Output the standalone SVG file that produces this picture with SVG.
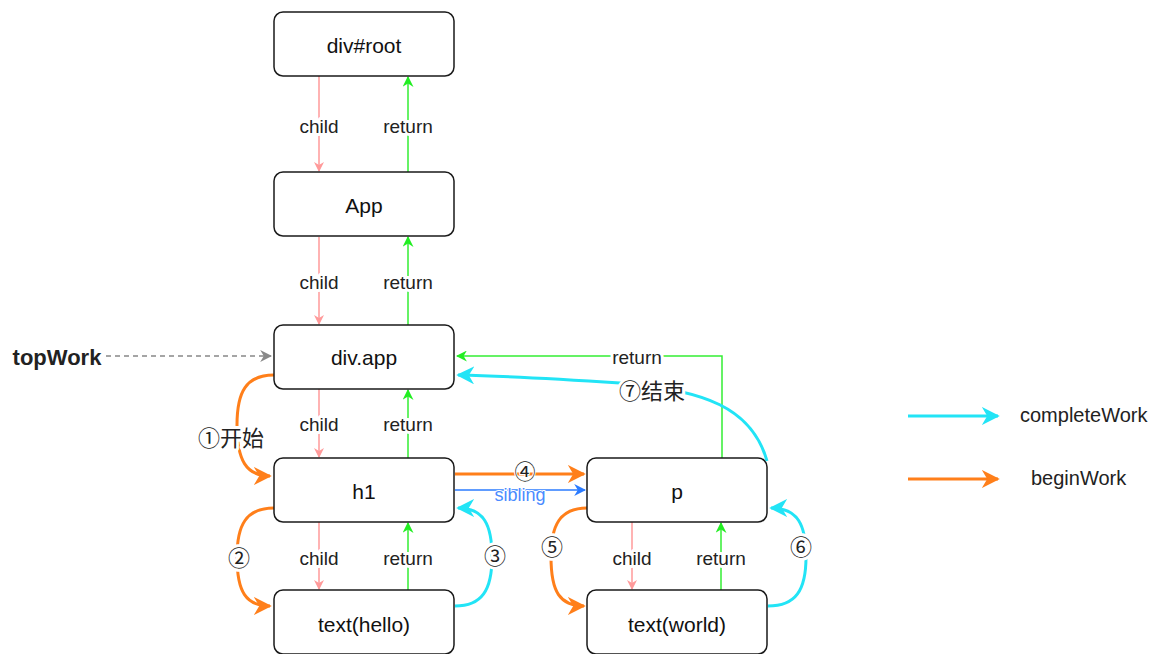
<svg xmlns="http://www.w3.org/2000/svg" width="1174" height="654" viewBox="0 0 1174 654">
  <style>
    .node rect { fill: #ffffff; stroke: #1a1a1a; stroke-width: 1.5; }
    .node text { font-family: "Liberation Sans", Arial, sans-serif; font-size: 21px; fill: #111; text-anchor: middle; dominant-baseline: central; }
    .lbl { font-family: "Liberation Sans", "Noto Sans CJK SC", Arial, sans-serif; font-size: 19px; fill: #222; text-anchor: middle; dominant-baseline: central; stroke: #fff; stroke-width: 6; paint-order: stroke; stroke-linejoin: round; }
    .step { font-size: 22px; }
    .legend-text { font-family: "Liberation Sans", Arial, sans-serif; font-size: 20px; fill: #222; dominant-baseline: central; }
    .child { stroke: #ff9a9a; stroke-width: 1.5; fill: none; }
    .ret { stroke: #33ee33; stroke-width: 1.5; fill: none; }
    .begin { stroke: #ff7f1a; stroke-width: 3; fill: none; }
    .complete { stroke: #22e4f6; stroke-width: 3; fill: none; }
    .sib { stroke: #2b7bff; stroke-width: 1.5; fill: none; }
    .dash { stroke: #888; stroke-width: 1.5; stroke-dasharray: 5 4; fill: none; }
  </style>
  <defs>
    <marker id="mChild" viewBox="0 0 10 10" refX="9" refY="5" markerWidth="10" markerHeight="10" markerUnits="userSpaceOnUse" orient="auto">
      <path d="M0,0 L10,5 L0,10 L3,5 z" fill="#ff9a9a"/>
    </marker>
    <marker id="mRet" viewBox="0 0 10 10" refX="9" refY="5" markerWidth="11" markerHeight="11" markerUnits="userSpaceOnUse" orient="auto">
      <path d="M0,0 L10,5 L0,10 L3,5 z" fill="#22ee22"/>
    </marker>
    <marker id="mBegin" viewBox="0 0 10 10" refX="9" refY="5" markerWidth="18" markerHeight="18" markerUnits="userSpaceOnUse" orient="auto">
      <path d="M0,0 L10,5 L0,10 L3,5 z" fill="#ff7f1a"/>
    </marker>
    <marker id="mComplete" viewBox="0 0 10 10" refX="9" refY="5" markerWidth="18" markerHeight="18" markerUnits="userSpaceOnUse" orient="auto">
      <path d="M0,0 L10,5 L0,10 L3,5 z" fill="#22e4f6"/>
    </marker>
    <marker id="mSib" viewBox="0 0 10 10" refX="9" refY="5" markerWidth="12" markerHeight="12" markerUnits="userSpaceOnUse" orient="auto">
      <path d="M0,0 L10,5 L0,10 L3,5 z" fill="#2b7bff"/>
    </marker>
    <marker id="mDash" viewBox="0 0 10 10" refX="9" refY="5" markerWidth="12" markerHeight="12" markerUnits="userSpaceOnUse" orient="auto">
      <path d="M0,0 L10,5 L0,10 L3,5 z" fill="#888"/>
    </marker>
  </defs>

  <rect width="1174" height="654" fill="#ffffff"/>

  <!-- connectors -->
  <g id="connectors">
    <!-- child / return pairs -->
    <line class="child" x1="319" y1="76" x2="319" y2="171" marker-end="url(#mChild)"/>
    <line class="ret" x1="408" y1="172" x2="408" y2="77" marker-end="url(#mRet)"/>
    <line class="child" x1="319" y1="237" x2="319" y2="324" marker-end="url(#mChild)"/>
    <line class="ret" x1="408" y1="325" x2="408" y2="237" marker-end="url(#mRet)"/>
    <line class="child" x1="319" y1="389" x2="319" y2="457" marker-end="url(#mChild)"/>
    <line class="ret" x1="408" y1="458" x2="408" y2="390" marker-end="url(#mRet)"/>
    <line class="child" x1="319" y1="522" x2="319" y2="589" marker-end="url(#mChild)"/>
    <line class="ret" x1="408" y1="590" x2="408" y2="523" marker-end="url(#mRet)"/>
    <line class="child" x1="632" y1="522" x2="632" y2="589" marker-end="url(#mChild)"/>
    <line class="ret" x1="721" y1="590" x2="721" y2="523" marker-end="url(#mRet)"/>

    <!-- p returns to div.app -->
    <path class="ret" d="M722,458 L722,356 L457,356" marker-end="url(#mRet)"/>

    <!-- topWork pointer -->
    <line class="dash" x1="106" y1="356" x2="271" y2="356" marker-end="url(#mDash)"/>

    <!-- beginWork steps -->
    <path class="begin" d="M274,375 C246,375 237,392 237,425 C237,460 246,476 270,476" marker-end="url(#mBegin)"/>
    <path class="begin" d="M274,508 C246,508 237,525 237,557 C237,592 246,606 270,606" marker-end="url(#mBegin)"/>
    <line class="begin" x1="455" y1="474" x2="584" y2="474" marker-end="url(#mBegin)"/>
    <path class="begin" d="M587,508 C560,508 551,525 551,557 C551,592 560,606 584,606" marker-end="url(#mBegin)"/>

    <!-- sibling -->
    <line class="sib" x1="455" y1="490" x2="585" y2="490" marker-end="url(#mSib)"/>

    <!-- completeWork steps -->
    <path class="complete" d="M455,606 C482,606 492,590 492,557 C492,525 484,508 458,508" marker-end="url(#mComplete)"/>
    <path class="complete" d="M768,606 C796,606 806,590 806,557 C806,525 798,508 771,508" marker-end="url(#mComplete)"/>
    <path class="complete" d="M767,461 C752,408 705,390 620,383 C560,379 510,376 458,375" marker-end="url(#mComplete)"/>

    <!-- labels -->
    <text class="lbl" x="319" y="126">child</text>
    <text class="lbl" x="408" y="126">return</text>
    <text class="lbl" x="319" y="282">child</text>
    <text class="lbl" x="408" y="282">return</text>
    <text class="lbl" x="319" y="424">child</text>
    <text class="lbl" x="408" y="424">return</text>
    <text class="lbl" x="319" y="558">child</text>
    <text class="lbl" x="408" y="558">return</text>
    <text class="lbl" x="632" y="558">child</text>
    <text class="lbl" x="721" y="558">return</text>
    <text class="lbl" x="637" y="357">return</text>
    <text class="lbl step" x="231" y="438">①开始</text>
    <text class="lbl step" x="239" y="558">②</text>
    <text class="lbl step" x="495" y="556">③</text>
    <text class="lbl" x="525" y="471" style="font-size:21px;stroke-width:2">④</text>
    <text class="lbl" x="520" y="495" style="font-size:18px;stroke-width:2;fill:#4a8bff">sibling</text>
    <text class="lbl step" x="552" y="547">⑤</text>
    <text class="lbl step" x="801" y="547">⑥</text>
    <text class="lbl step" x="652" y="391">⑦结束</text>
    <text class="lbl" x="57" y="357" style="font-weight:bold;font-size:22px">topWork</text>
  </g>

  <!-- fiber nodes -->
  <g id="node-root" class="node"><rect x="274" y="12" width="180" height="64" rx="9"/><text x="364" y="45">div#root</text></g>
  <g id="node-app" class="node"><rect x="274" y="172" width="180" height="64" rx="9"/><text x="364" y="205">App</text></g>
  <g id="node-divapp" class="node"><rect x="274" y="325" width="180" height="64" rx="9"/><text x="364" y="357">div.app</text></g>
  <g id="node-h1" class="node"><rect x="274" y="458" width="180" height="64" rx="9"/><text x="364" y="491">h1</text></g>
  <g id="node-hello" class="node"><rect x="274" y="590" width="180" height="64" rx="9"/><text x="364" y="624">text(hello)</text></g>
  <g id="node-p" class="node"><rect x="587" y="458" width="180" height="64" rx="9"/><text x="677" y="491">p</text></g>
  <g id="node-world" class="node"><rect x="587" y="590" width="180" height="64" rx="9"/><text x="677" y="624">text(world)</text></g>

  <!-- legend -->
  <g id="legend">
    <line class="complete" x1="908" y1="416" x2="998" y2="416" marker-end="url(#mComplete)"/>
    <text class="legend-text" x="1020" y="415">completeWork</text>
    <line class="begin" x1="908" y1="479" x2="998" y2="479" marker-end="url(#mBegin)"/>
    <text class="legend-text" x="1031" y="478">beginWork</text>
  </g>
</svg>
